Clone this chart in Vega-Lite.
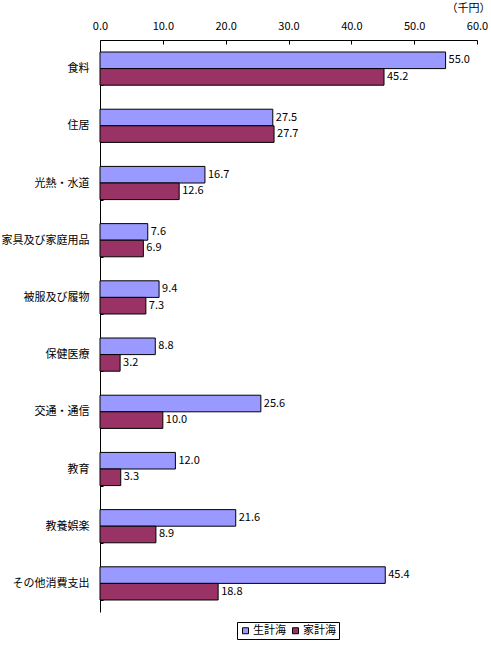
{
  "$schema": "https://vega.github.io/schema/vega-lite/v6.json",
  "width": 377,
  "height": 572,
  "autosize": "none",
  "padding": {"left": 100, "top": 40, "right": 14, "bottom": 33},
  "background": "white",
  "config": {
    "font": "Noto Sans CJK JP",
    "view": {"stroke": null}
  },
  "data": {
    "values": [
      {"cat": "食料", "series": "生計海", "v": 55.0},
      {"cat": "食料", "series": "家計海", "v": 45.2},
      {"cat": "住居", "series": "生計海", "v": 27.5},
      {"cat": "住居", "series": "家計海", "v": 27.7},
      {"cat": "光熱・水道", "series": "生計海", "v": 16.7},
      {"cat": "光熱・水道", "series": "家計海", "v": 12.6},
      {"cat": "家具及び家庭用品", "series": "生計海", "v": 7.6},
      {"cat": "家具及び家庭用品", "series": "家計海", "v": 6.9},
      {"cat": "被服及び履物", "series": "生計海", "v": 9.4},
      {"cat": "被服及び履物", "series": "家計海", "v": 7.3},
      {"cat": "保健医療", "series": "生計海", "v": 8.8},
      {"cat": "保健医療", "series": "家計海", "v": 3.2},
      {"cat": "交通・通信", "series": "生計海", "v": 25.6},
      {"cat": "交通・通信", "series": "家計海", "v": 10.0},
      {"cat": "教育", "series": "生計海", "v": 12.0},
      {"cat": "教育", "series": "家計海", "v": 3.3},
      {"cat": "教養娯楽", "series": "生計海", "v": 21.6},
      {"cat": "教養娯楽", "series": "家計海", "v": 8.9},
      {"cat": "その他消費支出", "series": "生計海", "v": 45.4},
      {"cat": "その他消費支出", "series": "家計海", "v": 18.8}
    ]
  },
  "encoding": {
    "y": {
      "field": "cat",
      "type": "nominal",
      "sort": null,
      "scale": {"paddingInner": 0.42, "paddingOuter": 0.21},
      "axis": {
        "title": null,
        "orient": "left",
        "tickBand": "extent",
        "tickSize": -3,
        "tickColor": "black",
        "domainColor": "black",
        "labelPadding": 14,
        "labelFontSize": 11,
        "labelColor": "black"
      }
    },
    "yOffset": {
      "field": "series",
      "type": "nominal",
      "sort": ["生計海", "家計海"],
      "scale": {"paddingInner": 0, "paddingOuter": 0}
    },
    "x": {
      "field": "v",
      "type": "quantitative",
      "scale": {"domain": [0, 60], "nice": false},
      "axis": {
        "orient": "top",
        "values": [0, 10, 20, 30, 40, 50, 60],
        "format": ".1f",
        "grid": false,
        "tickSize": -4,
        "tickColor": "black",
        "domainColor": "black",
        "labelPadding": 13,
        "labelFontSize": 11,
        "labelColor": "black",
        "labelFlush": false,
        "title": "（千円）",
        "titleFontWeight": "normal",
        "titleFontSize": 11,
        "titleAnchor": "end",
        "titleAlign": "right",
        "titleBaseline": "middle",
        "titleX": 390,
        "titleY": -32
      }
    }
  },
  "layer": [
    {
      "mark": {"type": "bar", "stroke": "black", "strokeWidth": 1},
      "encoding": {
        "color": {
          "field": "series",
          "type": "nominal",
          "sort": ["生計海", "家計海"],
          "scale": {"domain": ["生計海", "家計海"], "range": ["#9999FF", "#993366"]},
          "legend": {
            "title": null,
            "orient": "none",
            "direction": "horizontal",
            "legendX": 137,
            "legendY": 582,
            "strokeColor": "black",
            "padding": 3,
            "symbolType": "square",
            "symbolSize": 36,
            "symbolStrokeColor": "black",
            "symbolStrokeWidth": 1,
            "labelFontSize": 11,
            "labelColor": "black",
            "columnPadding": 4,
            "labelOffset": 2
          }
        }
      }
    },
    {
      "mark": {"type": "text", "align": "left", "baseline": "middle", "dx": 3, "fontSize": 11, "color": "black"},
      "encoding": {
        "text": {"field": "v", "type": "quantitative", "format": ".1f"}
      }
    }
  ]
}
